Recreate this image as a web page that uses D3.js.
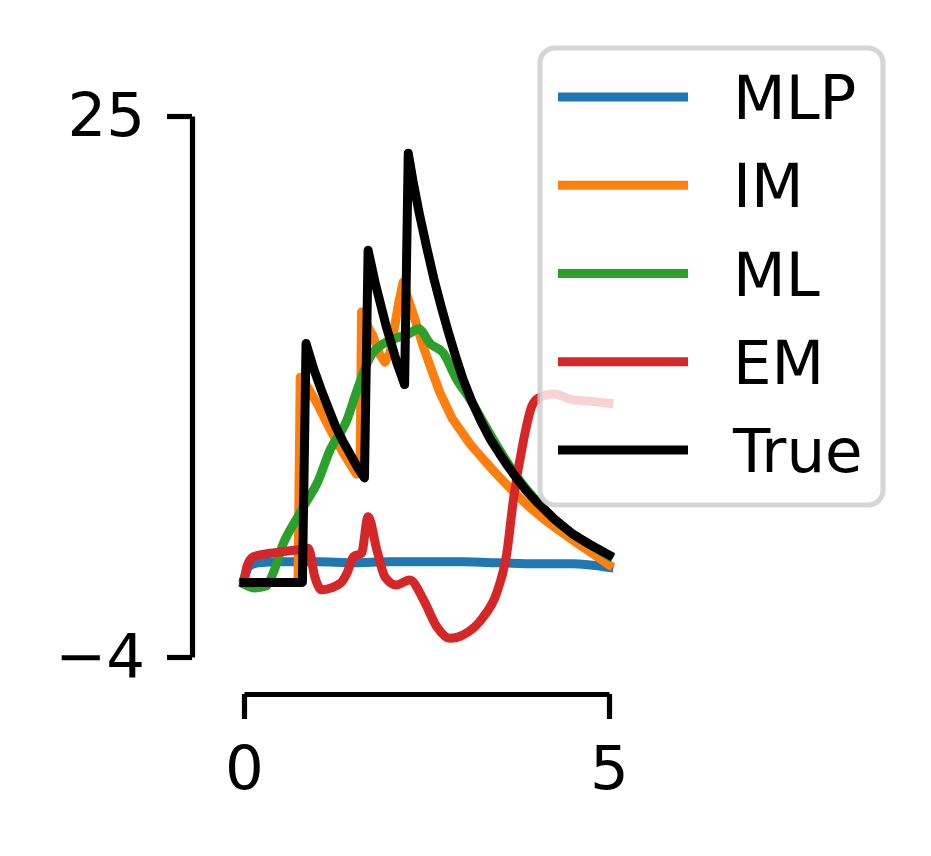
<!DOCTYPE html>
<html>
<head>
<meta charset="utf-8">
<script src="https://cdn.jsdelivr.net/npm/d3@7"></script>
<style>
  body { margin: 0; background: #fff; }
  text { font-family: "DejaVu Sans", sans-serif; }
</style>
</head>
<body>
<svg id="chart" width="931" height="856"></svg>
<script>
// values
const xTicks = [0, 5];
const yTicks = [-4, 25];

const mlpT = [0, 0.08, 0.2, 0.5, 1.0, 1.5, 2.0, 2.5, 3.0, 3.5, 4.0, 4.5, 5.0];
const mlpV = [0.2, 0.9, 1.05, 1.1, 1.1, 1.05, 1.1, 1.1, 1.1, 1.05, 1.0, 1.0, 0.8];

const imT = [0, 0.74, 0.77, 0.85, 1.0, 1.18, 1.35, 1.54, 1.59, 1.61, 1.70, 1.77, 1.86, 1.93, 2.0, 2.04, 2.12, 2.18, 2.24, 2.35, 2.45, 2.55, 2.68, 2.85, 3.1, 3.3, 3.51, 3.72, 3.92, 4.12, 4.33, 4.6, 5.0];
const imV = [0, 0, 11.0, 10.6, 9.6, 8.2, 7.0, 5.8, 6.0, 14.5, 13.7, 13.2, 12.2, 11.8, 12.3, 13.2, 15.0, 16.1, 15.3, 14.0, 12.7, 11.6, 10.2, 8.8, 7.4, 6.5, 5.6, 4.75, 4.0, 3.35, 2.75, 2.0, 0.95];

const mlT = [0, 0.15, 0.3, 0.4, 0.54, 0.72, 0.85, 1.0, 1.18, 1.41, 1.54, 1.73, 1.91, 2.09, 2.27, 2.39, 2.55, 2.73, 2.91, 3.1, 3.32, 3.5, 3.75, 4.0, 4.25, 4.5, 4.75, 5.0];
const mlV = [-0.1, -0.3, -0.2, 0.5, 2.1, 3.4, 4.3, 5.3, 7.1, 8.7, 10.2, 12.1, 12.8, 13.1, 13.35, 13.6, 12.8, 12.3, 10.9, 9.8, 8.3, 7.1, 5.6, 4.4, 3.4, 2.6, 2.0, 1.4];

const emT = [0, 0.04, 0.13, 0.36, 0.72, 0.88, 0.97, 1.06, 1.32, 1.41, 1.5, 1.61, 1.70, 1.82, 1.93, 2.09, 2.27, 2.46, 2.64, 2.82, 3.0, 3.28, 3.46, 3.6, 3.69, 3.83, 3.94, 4.03, 4.24, 4.51, 4.79, 5.0];
const emV = [0.05, 0.84, 1.38, 1.56, 1.74, 1.83, 0.3, -0.4, -0.05, 0.49, 1.38, 1.56, 3.52, 1.74, 0.3, -0.14, 0.13, -0.94, -2.37, -3.0, -2.82, -1.84, -0.58, 1.56, 4.42, 7.63, 9.42, 9.87, 10.1, 9.78, 9.69, 9.6];

const trueT = [0, 0.80, 0.85, 0.95, 1.05, 1.15, 1.25, 1.35, 1.45, 1.55, 1.65, 1.70, 1.80, 1.95, 2.10, 2.20, 2.25, 2.32, 2.40, 2.50, 2.60, 2.70, 2.80, 2.90, 3.00, 3.12, 3.25, 3.37, 3.50, 3.62, 3.75, 3.87, 4.00, 4.25, 4.50, 4.75, 5.00];
const trueV = [0, 0, 12.8, 11.5, 10.4, 9.4, 8.4, 7.6, 6.9, 6.2, 5.6, 17.8, 16.0, 13.7, 11.7, 10.6, 23.0, 21.4, 19.8, 18.0, 16.3, 14.8, 13.4, 12.1, 10.9, 9.7, 8.6, 7.7, 6.9, 6.2, 5.5, 4.9, 4.35, 3.4, 2.6, 2.0, 1.47];

const seriesNames = ["MLP", "IM", "ML", "EM", "True"];
const seriesColors = ["#1f77b4", "#ff7f0e", "#2ca02c", "#d62728", "#000000"];
const seriesT = [mlpT, imT, mlT, emT, trueT];
const seriesV = [mlpV, imV, mlV, emV, trueV];
const seriesSmooth = [true, false, true, true, false];

const svg = d3.select("#chart");
const fontSize = 61;
const lw = 9;

const x = d3.scaleLinear().domain([0, 5]).range([244, 609]);
const y = d3.scaleLinear().domain([-4, 25]).range([657, 116]);

// y axis (offset spine)
const yAxis = svg.append("g")
  .attr("transform", "translate(192,0)")
  .call(d3.axisLeft(y).tickValues(yTicks).tickSize(25).tickSizeOuter(0).tickPadding(22)
    .tickFormat(d => d < 0 ? "\u2212" + Math.abs(d) : d));

// x axis (offset spine)
const xAxis = svg.append("g")
  .attr("transform", "translate(0,694)")
  .call(d3.axisBottom(x).tickValues(xTicks).tickSize(25).tickSizeOuter(0).tickPadding(27)
    .tickFormat(d3.format("d")));

[yAxis, xAxis].forEach(g => {
  g.select(".domain").attr("stroke", "#000").attr("stroke-width", 5.2);
  g.selectAll(".tick line").attr("stroke", "#000").attr("stroke-width", 5.2);
  g.selectAll(".tick text")
    .attr("fill", "#000")
    .style("font-family", "'DejaVu Sans', sans-serif")
    .style("font-size", fontSize + "px");
});

seriesNames.forEach((name, i) => {
  const pts = seriesT[i].map((t, j) => [t, seriesV[i][j]]);
  const line = d3.line()
    .x(d => x(d[0]))
    .y(d => y(d[1]))
    .curve(seriesSmooth[i] ? d3.curveMonotoneX : d3.curveLinear);
  svg.append("path")
    .datum(pts)
    .attr("fill", "none")
    .attr("stroke", seriesColors[i])
    .attr("stroke-width", lw)
    .attr("stroke-linecap", "square")
    .attr("stroke-linejoin", "round")
    .attr("d", line);
});

// legend
const legend = svg.append("g");
legend.append("rect")
  .attr("x", 540).attr("y", 48)
  .attr("width", 343).attr("height", 457)
  .attr("rx", 15).attr("ry", 15)
  .attr("fill", "#fff").attr("fill-opacity", 0.8)
  .attr("stroke", "#cccccc").attr("stroke-opacity", 0.8)
  .attr("stroke-width", 5.2);

const rowY = d3.scaleLinear().domain([0, 4]).range([97, 450]);
seriesNames.forEach((name, i) => {
  const yy = rowY(i);
  legend.append("line")
    .attr("x1", 558).attr("x2", 688)
    .attr("y1", yy).attr("y2", yy)
    .attr("stroke", seriesColors[i])
    .attr("stroke-width", lw);
  legend.append("text")
    .attr("x", 733).attr("y", yy + 22)
    .attr("fill", "#000")
    .style("font-size", fontSize + "px")
    .text(name);
});
</script>
</body>
</html>
